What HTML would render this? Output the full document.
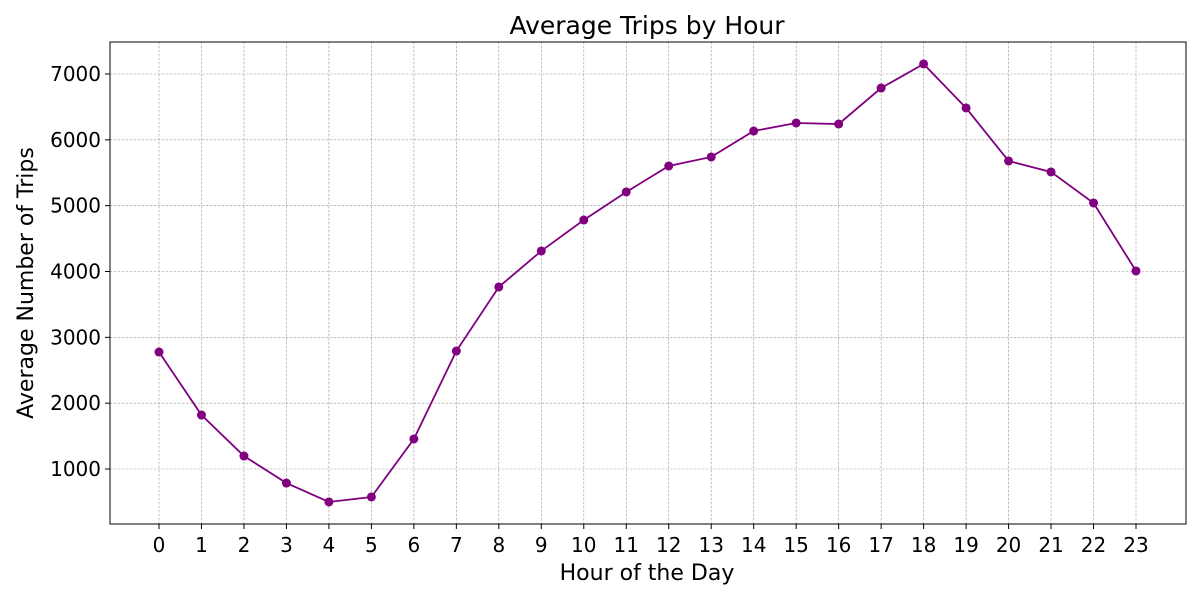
<!DOCTYPE html>
<html><head><meta charset="utf-8"><style>
body{margin:0;background:#fff;font-family:"DejaVu Sans","Liberation Sans",sans-serif;}
</style></head><body>
<svg id="chart" width="1200" height="600" xmlns="http://www.w3.org/2000/svg" font-family="DejaVu Sans, Liberation Sans, sans-serif">
<text x="647" y="34" text-anchor="middle" font-size="25" fill="#000">Average Trips by Hour</text>
<text x="647" y="580" text-anchor="middle" font-size="22" fill="#000">Hour of the Day</text>
<text transform="translate(33,283) rotate(-90)" text-anchor="middle" font-size="22" fill="#000">Average Number of Trips</text>
<g id="grid"></g><g id="ticks"></g><g id="series"></g>
<rect x="110" y="42" width="1076" height="482" fill="none" stroke="#000" stroke-width="1"/>
</svg>
<script>
const hours=[0,1,2,3,4,5,6,7,8,9,10,11,12,13,14,15,16,17,18,19,20,21,22,23];
const trips=[2777,1820,1197,787,499,575,1456,2792,3765,4312,4782,5208,5603,5740,6134,6256,6240,6787,7152,6484,5679,5512,5041,4008];
const yTicks=[1000,2000,3000,4000,5000,6000,7000];
const NS="http://www.w3.org/2000/svg";
const L=110,R=1186,T=42,B=524;
const xS=h=>159+(h-0)*(1136-159)/23;
const yS=v=>469-(v-1000)*(469-74)/6000;
function mk(tag,attrs,parent){const e=document.createElementNS(NS,tag);for(const k in attrs)e.setAttribute(k,attrs[k]);parent.appendChild(e);return e;}
const grid=document.getElementById('grid'),ticks=document.getElementById('ticks'),ser=document.getElementById('series');
hours.forEach(h=>{
 const x=xS(h);
 const g=mk('line',{x1:x,x2:x,y1:T,y2:B,stroke:'#999','stroke-width':0.6,'stroke-dasharray':'2.5,1.5'},grid);
 
 
 const tk=mk('line',{x1:x,x2:x,y1:B,y2:B+5,stroke:'#000'},ticks);
 
 
 const t=mk('text',{x:x,y:552,'text-anchor':'middle','font-size':20,fill:'#000'},ticks);
 t.textContent=h;
 
 
});
yTicks.forEach(v=>{
 const y=yS(v);
 const g=mk('line',{x1:L,x2:R,y1:y,y2:y,stroke:'#999','stroke-width':0.6,'stroke-dasharray':'2.5,1.5'},grid);
 
 
 const tk=mk('line',{x1:L-5,x2:L,y1:y,y2:y,stroke:'#000'},ticks);
 
 
 const t=mk('text',{x:L-9,y:y+7,'text-anchor':'end','font-size':20,fill:'#000'},ticks);
 t.textContent=v;
 
 
});
const pts=hours.map((h,i)=>xS(h)+','+yS(trips[i])).join(' ');
const pl=mk('polyline',{points:pts,fill:'none',stroke:'#800080','stroke-width':1.8},ser);


hours.forEach((h,i)=>{
 const c=mk('circle',{cx:xS(h),cy:yS(trips[i]),r:4.5,fill:'#800080'},ser);
 
 
});
</script>
</body></html>
